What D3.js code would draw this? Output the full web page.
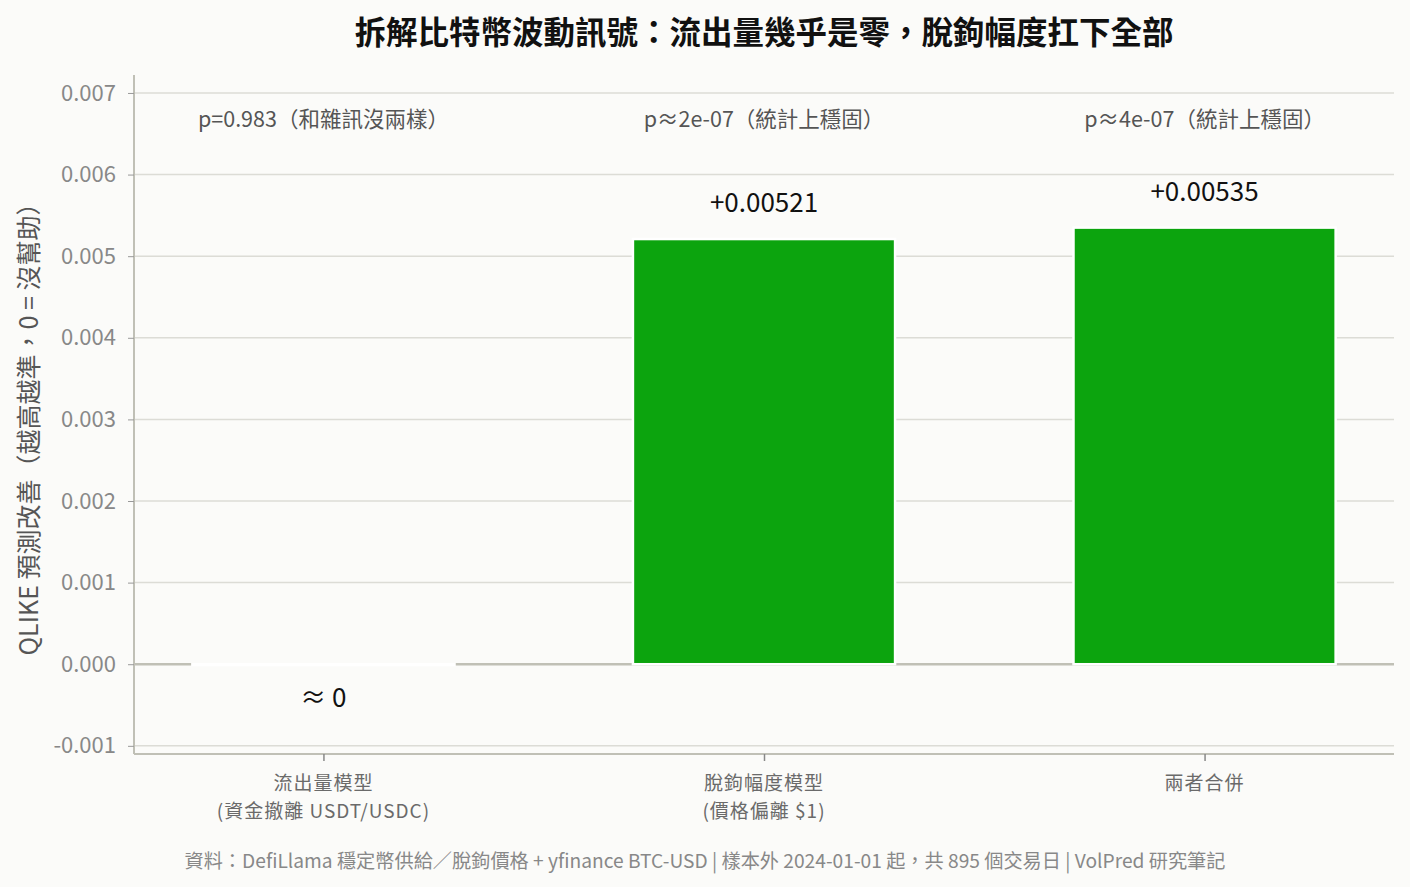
<!DOCTYPE html>
<html><head><meta charset="utf-8">
<script src="https://cdn.jsdelivr.net/npm/d3@7"></script>
<style>
html,body{margin:0;padding:0;background:#fbfbf9;}
text{font-family:"Century Gothic","URW Gothic","Noto Sans CJK TC",sans-serif;}
</style></head>
<body><svg id="chart" width="1410" height="887"></svg>
<script>
const categories = ["流出量模型\n(資金撤離 USDT/USDC)", "脫鉤幅度模型\n(價格偏離 $1)", "兩者合併"];
const values = [-0.00001, 0.00521, 0.00535];
const valueLabels = ["≈ 0", "+0.00521", "+0.00535"];
const pLabels = ["p=0.983（和雜訊沒兩樣）", "p≈2e-07（統計上穩固）", "p≈4e-07（統計上穩固）"];
const yTicks = [-0.001, 0, 0.001, 0.002, 0.003, 0.004, 0.005, 0.006, 0.007];
const title = "拆解比特幣波動訊號：流出量幾乎是零，脫鉤幅度扛下全部";
const yTitle = "QLIKE 預測改善（越高越準，0 = 沒幫助）";
const footer = "資料：DefiLlama 穩定幣供給／脫鉤價格 + yfinance BTC-USD | 樣本外 2024-01-01 起，共 895 個交易日 | VolPred 研究筆記";

const svg = d3.select("#chart");
const L = 134, R = 1394, T = 75, B = 754;
svg.append("rect").attr("width",1410).attr("height",887).attr("fill","#fbfbf9");

const x = d3.scalePoint().domain(d3.range(categories.length)).range([L, R]).padding(0.43);
const bw = x.step() * 0.595;
const y = d3.scaleLinear().domain([-0.0011, 0.00722]).range([B, T]);

// grid
svg.append("g").selectAll("line").data(yTicks).join("line")
  .attr("x1", L).attr("x2", R).attr("y1", d => y(d)).attr("y2", d => y(d))
  .attr("stroke", "#dcdcd6").attr("stroke-width", 1.5);

// zero line
svg.append("line").attr("x1", L).attr("x2", R).attr("y1", y(0)).attr("y2", y(0))
  .attr("stroke", "#c0c0b6").attr("stroke-width", 2.5);

// bars
svg.append("g").selectAll("rect").data(values).join("rect")
  .attr("x", (d,i) => x(i) - bw/2).attr("width", bw)
  .attr("y", d => y(Math.max(0,d))).attr("height", d => Math.max(0.5, Math.abs(y(d) - y(0))))
  .attr("fill", "#0ca40e").attr("stroke", "#ffffff").attr("stroke-width", 2.5);

// axes
const fmt = d3.format(".3f");
const yAxis = d3.axisLeft(y).tickValues(yTicks).tickFormat(d => fmt(d).replace("−", "-")).tickSize(6).tickPadding(12);
const gy = svg.append("g").attr("transform", `translate(${L},0)`).call(yAxis);
gy.select(".domain").attr("stroke", "#c0c0b6").attr("stroke-width", 2).attr("d", `M0,${T}V${B}`);
gy.selectAll(".tick line").attr("stroke", "#999");
gy.selectAll(".tick text").attr("fill", "#888").style("font-size", "22px");

const xAxis = d3.axisBottom(x).tickSize(7).tickFormat("");
const gx = svg.append("g").attr("transform", `translate(0,${B})`).call(xAxis);
gx.select(".domain").attr("stroke", "#c0c0b6").attr("stroke-width", 2).attr("d", `M${L},0H${R}`);
gx.selectAll(".tick line").attr("stroke", "#888").attr("stroke-width", 1.5);

// x labels
categories.forEach((c, i) => {
  c.split("\n").forEach((ln, j) => {
    svg.append("text").attr("x", x(i)).attr("y", 790 + j * 28).attr("text-anchor", "middle")
      .attr("fill", "#6a6a6a").style("font-size", "19px").style("letter-spacing", "1px").text(ln);
  });
});

// p labels
svg.append("g").selectAll("text").data(pLabels).join("text")
  .attr("x", (d,i) => x(i)).attr("y", 127).attr("text-anchor", "middle")
  .attr("fill", "#555").style("font-size", "21.5px").text(d => d);

// value labels
svg.append("g").selectAll("text").data(values).join("text")
  .attr("x", (d,i) => x(i))
  .attr("y", d => d >= 0.0001 ? y(d) - 27 : y(0) + 43)
  .attr("text-anchor", "middle").attr("fill", "#111").style("font-size", "26px")
  .text((d,i) => valueLabels[i]);

// title
svg.append("text").attr("x", 764).attr("y", 44).attr("text-anchor", "middle")
  .attr("fill", "#111").style("font-size", "31.5px").style("font-weight", "bold").text(title);

// y title
svg.append("text").attr("transform", `translate(38,423) rotate(-90)`)
  .attr("text-anchor", "middle").attr("fill", "#555").style("font-size", "25px").text(yTitle);

// footer
svg.append("text").attr("x", 705).attr("y", 868).attr("text-anchor", "middle")
  .attr("fill", "#888").style("font-size", "19.2px").text(footer);
</script></body></html>
